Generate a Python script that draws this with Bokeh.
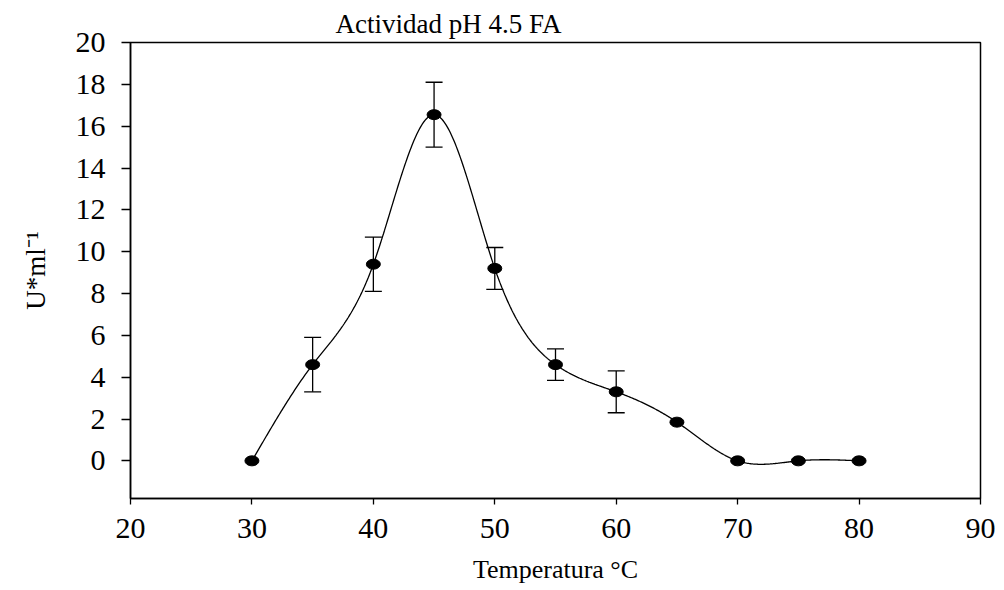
import numpy as np
from bokeh.plotting import figure
from bokeh.models import ColumnDataSource, Whisker, TeeHead, Range1d, FixedTicker
from bokeh.embed import file_html
from bokeh.resources import INLINE

# ---- data ----
temperature = [30, 35, 40, 45, 50, 55, 60, 65, 70, 75, 80]
activity = [0.0, 4.6, 9.4, 16.55, 9.2, 4.6, 3.3, 1.85, 0.0, 0.0, 0.0]
err_x = [35, 40, 45, 50, 55, 60]
err_val = [4.6, 9.4, 16.55, 9.2, 4.6, 3.3]
err_size = [1.3, 1.3, 1.55, 1.0, 0.75, 1.0]
x_ticks = [20, 30, 40, 50, 60, 70, 80, 90]
y_ticks = [0, 2, 4, 6, 8, 10, 12, 14, 16, 18, 20]

title_text = "Actividad pH 4.5 FA"
x_label = "Temperatura °C"
y_label = "U*ml⁻¹"

FONT = "Liberation Serif"


def natural_spline(xs, ys, n=60):
    xs = np.asarray(xs, float)
    ys = np.asarray(ys, float)
    m = len(xs)
    h = np.diff(xs)
    A = np.zeros((m, m))
    b = np.zeros(m)
    A[0, 0] = 1
    A[-1, -1] = 1
    for i in range(1, m - 1):
        A[i, i - 1] = h[i - 1]
        A[i, i] = 2 * (h[i - 1] + h[i])
        A[i, i + 1] = h[i]
        b[i] = 6 * ((ys[i + 1] - ys[i]) / h[i] - (ys[i] - ys[i - 1]) / h[i - 1])
    M = np.linalg.solve(A, b)
    outx, outy = [], []
    for i in range(m - 1):
        t = np.linspace(xs[i], xs[i + 1], n, endpoint=(i == m - 2))
        a = xs[i + 1] - t
        c = t - xs[i]
        y = (M[i] * a ** 3 + M[i + 1] * c ** 3) / (6 * h[i]) \
            + (ys[i] / h[i] - M[i] * h[i] / 6) * a \
            + (ys[i + 1] / h[i] - M[i + 1] * h[i] / 6) * c
        outx.extend(t)
        outy.extend(y)
    return outx, outy


p = figure(width=1004, height=590, output_backend="svg", toolbar_location=None,
           x_range=Range1d(20, 90), y_range=Range1d(-1.8, 20),
           title=title_text)
p.min_border_left = 130
p.min_border_right = 24
p.min_border_top = 42
p.min_border_bottom = 92
p.background_fill_color = "white"
p.border_fill_color = "white"
p.grid.visible = False
p.outline_line_color = "black"
p.outline_line_width = 1.5

p.title.text_font = FONT
p.title.text_font_style = "normal"
p.title.text_font_size = "27px"
p.title.text_color = "black"
p.title.align = "left"
p.title.offset = 205
p.title.standoff = 8

sx, sy = natural_spline(temperature, activity)
p.line(sx, sy, line_color="black", line_width=1.3)

esrc = ColumnDataSource(dict(x=err_x,
                             upper=[v + e for v, e in zip(err_val, err_size)],
                             lower=[v - e for v, e in zip(err_val, err_size)]))
w = Whisker(source=esrc, base="x", upper="upper", lower="lower", dimension="height",
            line_color="black", line_width=1.3,
            upper_head=TeeHead(size=17, line_color="black", line_width=1.3),
            lower_head=TeeHead(size=17, line_color="black", line_width=1.3))
p.add_layout(w)

p.ellipse(temperature, activity, width=14, height=10, width_units="screen",
          height_units="screen", fill_color="black", line_color="black")

for ax in (p.xaxis[0], p.yaxis[0]):
    ax.axis_line_color = "black"
    ax.axis_line_width = 1.5
    ax.major_tick_line_color = "black"
    ax.major_tick_line_width = 1.3
    ax.major_tick_in = 0
    ax.minor_tick_line_color = None
    ax.major_label_text_font = FONT
    ax.major_label_text_font_size = "30px"
    ax.major_label_text_color = "black"

p.xaxis.ticker = FixedTicker(ticks=x_ticks)
p.yaxis.ticker = FixedTicker(ticks=y_ticks)
p.xaxis.major_tick_out = 6
p.yaxis.major_tick_out = 9
p.xaxis.major_label_standoff = 14
p.yaxis.major_label_standoff = 16

p.xaxis.axis_label = x_label
p.xaxis.axis_label_text_font = FONT
p.xaxis.axis_label_text_font_style = "normal"
p.xaxis.axis_label_text_font_size = "26px"
p.xaxis.axis_label_text_color = "black"
p.xaxis.axis_label_standoff = 14

p.yaxis.axis_label = y_label
p.yaxis.axis_label_text_font = FONT
p.yaxis.axis_label_text_font_style = "normal"
p.yaxis.axis_label_text_font_size = "27px"
p.yaxis.axis_label_text_color = "black"
p.yaxis.axis_label_standoff = 22

open("out.html", "w").write(file_html(p, INLINE))
